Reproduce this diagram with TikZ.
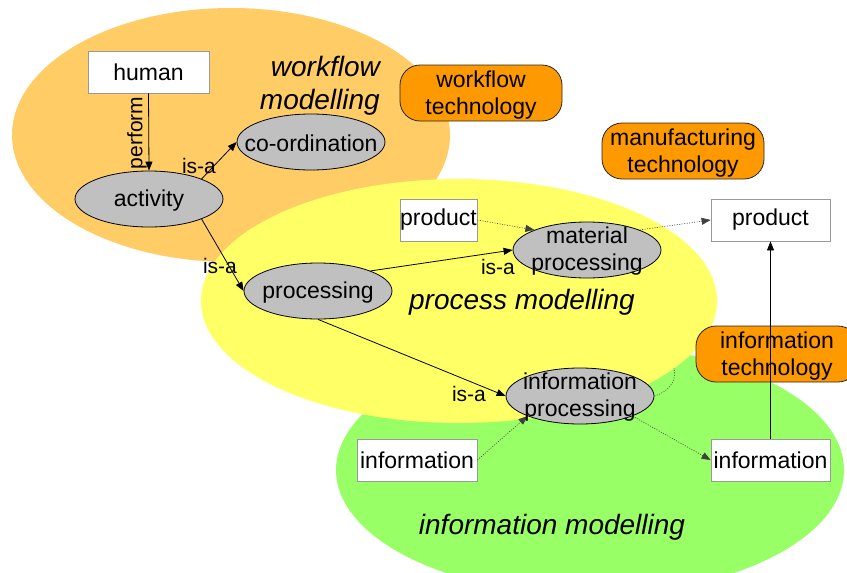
\documentclass[tikz,border=0pt]{standalone}
\usepackage{fontspec}
\setmainfont{Liberation Sans}
\usetikzlibrary{shapes.geometric,arrows.meta}
\definecolor{wfblob}{HTML}{FFCC66}
\definecolor{prblob}{HTML}{FFFF66}
\definecolor{inblob}{HTML}{99FF66}
\definecolor{techorange}{HTML}{FF9900}
\definecolor{procgray}{HTML}{C0C0C0}
\definecolor{boxborder}{HTML}{999999}
\begin{document}
\begin{tikzpicture}[x=1pt,y=-1pt,
  nodefont/.style={font=\fontsize{23}{27}\selectfont},
  lblfont/.style={font=\fontsize{21}{24}\selectfont},
  blobfont/.style={font=\fontsize{28}{33}\selectfont\itshape},
  entity/.style={draw=boxborder, fill=white, line width=0.8pt, inner sep=0pt, minimum height=42pt, nodefont},
  procell/.style={ellipse, draw=black, fill=procgray, line width=0.8pt, minimum width=148pt, minimum height=56pt, inner sep=0pt},
  proctext/.style={nodefont, align=center, inner sep=0pt},
  techbox/.style={draw=black!85, fill=techorange, line width=0.8pt, rounded corners=20pt, minimum width=162pt, minimum height=56pt, inner sep=0pt},
  techtext/.style={nodefont, align=center, inner sep=0pt, yshift=-2pt},
  rel/.style={-{Triangle[length=9pt,width=7pt]}, line width=0.8pt},
  flow/.style={-{Triangle[length=9pt,width=7pt]}, line width=0.6pt, dash pattern=on 1pt off 1.5pt, draw=black!75},
  edgelbl/.style={lblfont, inner sep=0pt},
]
\useasboundingbox (0,0) rectangle (847,573);
\begin{scope}
  \clip (0,0) rectangle (847,573);
  \fill[wfblob] (231,135) ellipse [x radius=219, y radius=127];
  \fill[inblob] (590,470) ellipse [x radius=254, y radius=125];
  \fill[prblob] (459,301) ellipse [x radius=258, y radius=122];
\end{scope}

% blob labels
\node[blobfont, align=right, anchor=east, inner sep=0pt] (wfl) at (380,86) {workflow\\modelling};
\node[blobfont, inner sep=0pt] (pml) at (522,302) {process modelling};
\node[blobfont, inner sep=0pt] (iml) at (552,527) {information modelling};

% technology boxes
\node[techbox] (wft) at (481,93) {};
\node[techtext] (wftT) at (wft) {workflow\\technology};
\node[techbox] (mft) at (683,151) {};
\node[techtext] (mftT) at (mft) {manufacturing\\technology};
\node[techbox] (itt) at (777,354) {};
\node[techtext] (ittT) at (itt) {information\\technology};

% entity boxes
\node[entity, minimum width=121pt] (human) at (148.5,72) {human};
\node[entity, minimum width=77pt] (prodL) at (438.5,220) {product};
\node[entity, minimum width=119pt] (prodR) at (770.5,220) {product};
\node[entity, minimum width=120pt] (infoL) at (417,460) {information};
\node[entity, minimum width=119pt] (infoR) at (770.5,460) {information};

% process ellipses
\node[procell] (act) at (149,199) {};
\node[procell] (coord) at (311,142) {};
\node[procell] (proc) at (318,291) {};
\node[procell] (mat) at (587,250) {};
\node[procell] (ip) at (580,396) {};

% connectors
\draw[rel] (human.south) -- (act.north);
\draw[rel] (act.north east) -- (coord.west);
\draw[rel] (act.south east) -- (proc.west);
\draw[rel] (proc.north east) -- (mat.west);
\draw[rel] (proc.south) -- (ip.west);
\draw[flow] (prodL.east) -- (mat.north west);
\draw[flow] (mat.north east) -- (prodR.west);
\draw[flow] (infoL.east) -- (ip.south west);
\draw[flow] (ip.south east) -- (infoR.west);
\draw[rel] (infoR.north) -- (prodR.south);
\coordinate (itend) at (674,368);
\draw[line width=0.6pt, dash pattern=on 1pt off 1.5pt, draw=black!75] (ip.east) .. controls (668,392) and (677,382) .. (itend);

% process texts (drawn over connectors)
\node[proctext, yshift=-2pt] (actT) at (act) {activity};
\node[proctext, yshift=-1pt] (coordT) at (coord) {co-ordination};
\node[proctext, yshift=-2pt] (procT) at (proc) {processing};
\node[proctext, yshift=-1pt] (matT) at (mat) {material\\processing};
\node[proctext, yshift=-1pt] (ipT) at (ip) {information\\processing};

% edge labels
\node[edgelbl, rotate=90] (perf) at (137,133) {perform};
\node[edgelbl] (isa1) at (199,166) {is-a};
\node[edgelbl] (isa2) at (220,266) {is-a};
\node[edgelbl] (isa3) at (498,267) {is-a};
\node[edgelbl] (isa4) at (469,394) {is-a};
\end{tikzpicture}
\end{document}
